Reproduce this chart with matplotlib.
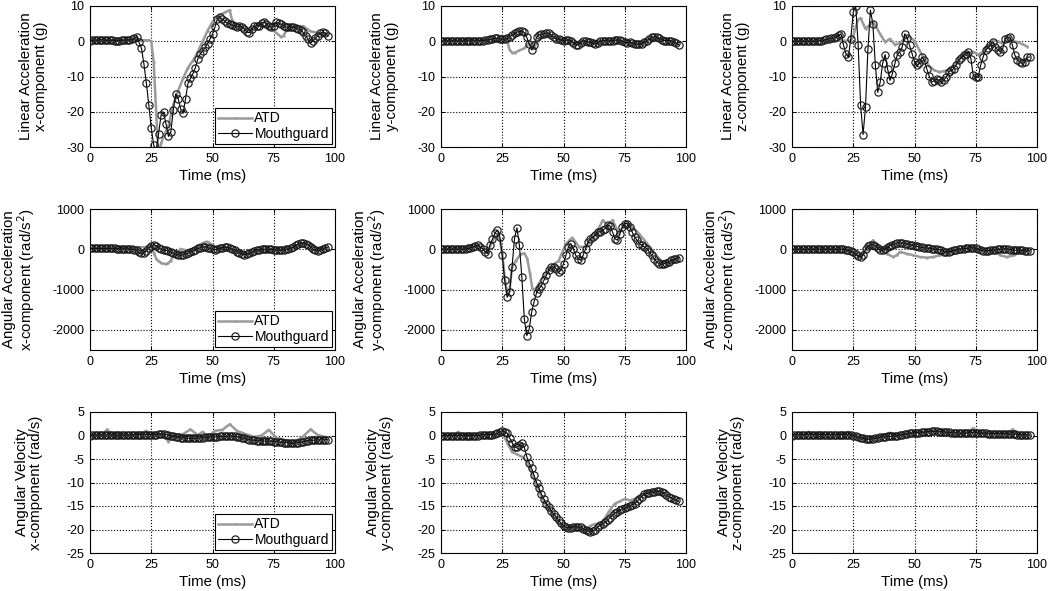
import numpy as np
import matplotlib
matplotlib.use("Agg")
import matplotlib.pyplot as plt

plt.rcParams['font.family'] = ['Liberation Sans', 'DejaVu Sans']
plt.rcParams['axes.unicode_minus'] = False

# ---------------- data ----------------
mg_time = list(range(0, 98))   # mouthguard sample times (ms)

# Row 1: linear acceleration (g)
lin_x_mg = [0.0, 0.3, 0.3, 0.3, 0.4, 0.4, 0.3, 0.3, 0.3, 0.3,
            0.2, 0.2, 0.2, 0.3, 0.3, 0.3, 0.4, 0.5, 0.8, 1.3,
            -0.3, -2.0, -6.4, -11.9, -18.0, -24.6, -29.5, -31.0, -26.2, -21.0,
            -20.1, -23.4, -27.0, -25.7, -19.4, -14.9, -16.3, -19.2, -20.4, -16.3,
            -11.9, -10.5, -9.2, -7.5, -5.0, -3.6, -2.8, -1.7, -0.7, 0.7,
            2.0, 4.0, 6.3, 6.8, 6.3, 5.7, 5.1, 5.0, 4.6, 4.2,
            4.0, 4.4, 4.0, 3.5, 2.6, 2.4, 3.5, 4.2, 4.4, 4.4,
            5.2, 5.4, 4.9, 4.2, 4.0, 4.4, 5.4, 5.1, 4.8, 4.4,
            4.0, 4.0, 4.0, 4.0, 3.8, 3.6, 3.3, 2.5, 1.6, 0.6,
            -0.6, 0.2, 0.8, 1.6, 2.2, 2.5, 2.4, 1.6]
lin_x_atd_t = [0, 24, 25, 26, 27, 28, 29, 30, 32, 34, 36, 38, 40, 42, 44, 46, 48, 50, 52,
               55, 57, 58, 60, 63, 66, 69, 72, 75, 78, 79, 81, 84, 87, 90, 93, 96]
lin_x_atd = [0.3, 0.3, 0.0, -6.0, -20.0, -33.0, -29.0, -27.0, -24.0, -18.0, -14.0, -10.5,
             -7.5, -5.5, -3.0, 0.0, 3.0, 5.5, 7.0, 8.2, 8.8, 6.0, 4.5, 3.8, 3.5, 4.5,
             4.0, 3.0, 1.2, 1.6, 4.0, 4.2, 4.3, 2.8, 2.4, 2.0]

lin_y_mg = [0.0, 0.1, 0.1, 0.1, 0.1, 0.1, 0.1, 0.1, 0.1, 0.1,
            0.1, 0.1, 0.1, 0.1, 0.1, 0.1, 0.2, 0.2, 0.3, 0.4,
            0.5, 0.7, 0.8, 0.8, 0.7, 0.6, 0.6, 0.8, 1.2, 1.8,
            2.3, 2.6, 2.8, 2.8, 2.5, 1.1, -0.8, -2.5, -1.2, 1.1,
            1.8, 2.0, 2.1, 2.3, 2.2, 1.8, 1.1, 0.7, 0.5, 0.3,
            0.2, 0.3, 0.4, 0.2, -0.4, -1.0, -1.0, -0.4, 0.2, 0.1,
            -0.2, -0.3, -0.6, -0.8, -0.4, 0.0, 0.2, 0.2, 0.1, 0.1,
            0.2, 0.3, 0.4, 0.3, 0.0, -0.3, -0.4, -0.3, -0.5, -0.8,
            -0.9, -0.9, -0.8, -0.3, 0.2, 0.7, 1.1, 1.3, 1.2, 0.8,
            0.4, 0.2, 0.2, 0.2, 0.1, -0.1, -0.5, -1.0]
lin_y_atd_t = [0, 27, 28, 29, 30, 32, 34, 35, 36, 37, 38, 39, 41, 43, 45, 48, 52, 55,
               58, 62, 66, 70, 75, 80, 84, 88, 92, 96]
lin_y_atd = [0.1, 0.3, -2.5, -3.2, -3.3, -2.6, -2.0, -1.2, -0.5, -1.5, -2.0, -0.5, 1.0,
             1.5, 1.5, 0.6, 0.3, -0.7, 0.0, -0.5, 0.0, 0.2, -0.2, -0.8, 0.0, 1.0, 0.3, -0.8]

lin_z_mg = [0.0, 0.0, 0.0, 0.0, 0.0, 0.0, 0.0, 0.0, 0.0, 0.0,
            0.0, 0.1, 0.2, 0.3, 0.5, 0.7, 0.8, 0.8, 1.2, 1.7,
            2.1, -1.0, -3.5, -4.5, 0.7, 8.3, 10.0, -1.0, -18.0, -26.5,
            -18.7, -2.1, 8.8, 5.0, -6.6, -14.5, -11.6, -6.3, -3.8, -7.8,
            -11.1, -9.2, -6.3, -3.8, -3.0, -1.6, 2.1, 0.9, -1.2, -3.5,
            -5.9, -6.6, -6.3, -4.5, -5.4, -7.8, -9.9, -11.6, -11.2, -10.8,
            -11.1, -11.6, -10.9, -10.2, -8.7, -8.2, -7.8, -6.8, -5.4, -4.8,
            -4.0, -3.5, -3.0, -4.9, -9.7, -10.2, -10.2, -6.8, -4.5, -2.6,
            -1.8, -1.2, -0.2, -1.6, -2.5, -3.0, -2.1, 0.7, 1.0, 1.2,
            -1.2, -4.0, -5.4, -5.8, -6.3, -5.9, -4.5, -4.5]
lin_z_atd_t = [0, 24, 25, 26, 27, 28, 29, 30, 31, 32, 33, 34, 36, 38, 40, 42, 44, 46, 48,
               50, 52, 54, 56, 58, 60, 62, 64, 66, 68, 70, 72, 74, 76, 78, 80, 82, 84,
               86, 88, 90, 92, 94, 96]
lin_z_atd = [0.0, 0.2, 1.5, 4.0, 6.2, 6.6, 5.0, 3.5, 4.2, 4.8, 5.5, 4.5, 2.0, -0.2, 0.7,
             -1.0, -0.5, 0.8, 1.2, 0.2, -2.5, -5.0, -7.0, -8.2, -8.7, -8.5, -8.0, -6.8,
             -5.2, -4.0, -3.3, -3.0, -3.8, -3.0, -1.5, 0.2, 0.0, -0.7, 0.2, 0.0, -0.2,
             -0.8, -1.5]

# Row 2: angular acceleration (rad/s^2)
ang_x_mg = [20, 20, 20, 20, 20, 20, 20, 20, 20, 20,
            20, 15, 10, 10, 10, 10, 5, 0, -10, -30,
            -70, -100, -90, -40, 30, 90, 110, 90, 40, 0,
            -20, -30, -40, -60, -90, -120, -140, -150, -140, -120,
            -100, -70, -40, -10, 20, 40, 60, 60, 40, 20,
            0, -10, 0, 20, 40, 50, 50, 30, 0, -30,
            -60, -90, -120, -130, -120, -100, -70, -40, -20, -10,
            0, 0, 0, 0, 0, -10, -20, -20, -20, -10,
            0, 10, 30, 60, 100, 130, 150, 160, 140, 110,
            60, 10, -30, -40, -20, 10, 40, 50]
ang_x_atd_t = [0, 25, 26, 27, 28, 29, 31, 32, 33, 34, 35, 36, 37, 40, 43, 45, 47, 48, 50,
               52, 55, 60, 64, 70, 80, 84, 87, 90, 93, 96]
ang_x_atd = [20, 60, -80, -230, -300, -340, -370, -340, -280, -160, -190, -60, 10, -40,
             50, 120, 180, 190, 110, 20, 50, -40, -120, -10, -10, 60, 150, 120, 20, 40]

ang_y_mg = [0, 0, 0, 0, 0, 0, 0, 0, 0, 0,
            10, 20, 40, 60, 80, 100, 60, 17, -60, -108,
            116, 250, 400, 474, 308, -150, -773, -1190, -1064, -440,
            266, 532, 100, -690, -1730, -2145, -1980, -1560, -1300, -1080,
            -980, -900, -773, -648, -523, -440, -440, -480, -565, -523,
            -357, -150, 58, 141, 17, -150, -233, -274, -150, 17,
            183, 266, 308, 350, 432, 432, 474, 515, 600, 580,
            432, 266, 225, 390, 557, 640, 640, 557, 432, 308,
            225, 141, 100, 58, 17, -66, -150, -233, -316, -357,
            -375, -357, -330, -316, -274, -250, -233, -207]
ang_y_atd_t = [0, 12, 15, 17, 19, 21, 22, 23, 24, 25, 26, 27, 28, 29, 30.5, 32.5, 34,
               35.2, 36.3, 37.3, 38, 39, 40, 42, 44, 46, 48, 51, 53.6, 56.3, 59, 63, 66,
               68, 70, 72.7, 75.4, 78, 80.8, 83.5, 86.3, 89, 91.7, 94.4, 96.5]
ang_y_atd = [0, 40, 100, 20, -80, 200, 320, 330, 250, -100, -700, -1100, -1000, -450,
             -290, -120, -100, -230, -600, -980, -1000, -950, -850, -650, -500, -370,
             -290, 140, 290, 60, 60, 350, 720, 600, 720, 380, 680, 560, 390, 190, -30,
             -230, -360, -320, -230]

ang_z_mg = [0, 0, 0, 0, 0, 0, 0, 0, 0, 0,
            0, 0, 0, 0, 0, 0, 0, 0, 0, 0,
            0, 0, -10, -30, -50, -70, -120, -170, -190, -150,
            0, 80, 110, 117, 90, 30, -20, -20, 10, 50,
            90, 110, 140, 155, 158, 155, 142, 130, 115, 100,
            85, 70, 58, 45, 35, 30, 25, 17, 10, 0,
            -10, -30, -55, -67, -60, -50, -30, -10, 0, 10,
            15, 20, 30, 42, 40, 20, 0, -20, -35, -42,
            -35, -25, -20, -10, -5, 0, 10, 17, 10, -10,
            -25, -25, -25, -25, -30, -35, -40, -42]
ang_z_atd_t = [0, 22, 25, 27.7, 30, 33, 36, 38.6, 41.3, 42.7, 44, 46.8, 49.5, 52.2, 55,
               57.7, 60.4, 63, 66, 70, 74, 77, 80, 82, 85, 87.7, 90.5, 93.2, 96]
ang_z_atd = [0, 0, -80, -200, -50, 225, 17, -108, -190, -150, -67, -108, -150, -190,
             -208, -190, -150, -80, -40, 10, 40, 0, -40, -30, -150, -190, -150, -67, -30]

# Row 3: angular velocity (rad/s)
vel_x_mg = [0.0, 0.1, 0.1, 0.1, 0.1, 0.1, 0.1, 0.1, 0.1, 0.1,
            0.1, 0.1, 0.1, 0.1, 0.1, 0.1, 0.1, 0.1, 0.2, 0.2,
            0.2, 0.2, 0.2, 0.2, 0.2, 0.2, 0.2, 0.2, 0.3, 0.3,
            0.3, 0.2, 0.1, 0.0, -0.2, -0.3, -0.4, -0.5, -0.5, -0.6,
            -0.6, -0.6, -0.6, -0.6, -0.5, -0.5, -0.5, -0.4, -0.4, -0.3,
            -0.3, -0.3, -0.3, -0.2, -0.2, -0.2, -0.2, -0.1, -0.1, -0.2,
            -0.3, -0.4, -0.5, -0.6, -0.8, -0.9, -1.0, -1.0, -1.1, -1.1,
            -1.1, -1.2, -1.2, -1.2, -1.2, -1.3, -1.3, -1.4, -1.4, -1.5,
            -1.5, -1.6, -1.7, -1.7, -1.6, -1.5, -1.4, -1.3, -1.2, -1.1,
            -1.0, -1.0, -1.0, -1.0, -0.9, -0.9, -0.9, -0.9]
vel_x_atd_t = [0, 5, 7, 9, 13, 16, 20, 23, 25, 28, 30, 32, 34, 36, 38, 41, 44, 46, 48, 51,
               54, 57, 60, 63, 67, 70, 73, 76, 80, 83, 87, 90, 93, 96]
vel_x_atd = [0, 0.1, 1.3, 0.1, 0.3, -0.3, 0.2, 1.0, 0.1, 0.3, 0.2, -1.3, 0.0, 0.2, 0.3,
             1.3, 0.1, 0.8, -0.5, 1.0, 1.2, 2.4, 1.0, 0.4, -0.3, 0.0, 1.2, -0.5, -1.0,
             -1.5, -0.2, 1.3, 0.1, -0.3]

vel_y_mg = [0.0, 0.0, 0.0, 0.0, 0.0, 0.0, 0.0, 0.0, 0.0, 0.0,
            0.0, 0.0, 0.0, 0.0, 0.0, 0.0, 0.1, 0.2, 0.2, 0.2,
            0.2, 0.2, 0.3, 0.5, 0.8, 1.0, 0.8, 0.5, -0.5, -1.5,
            -2.5, -2.5, -2.0, -1.5, -2.5, -4.5, -5.8, -7.0, -8.5, -10.0,
            -11.2, -12.5, -13.5, -14.5, -15.2, -16.0, -16.7, -17.3, -18.0, -18.7,
            -19.2, -19.5, -19.6, -19.6, -19.4, -19.4, -19.5, -19.5, -19.8, -20.0,
            -20.3, -20.5, -20.3, -20.0, -19.5, -19.0, -18.8, -18.5, -18.0, -17.5,
            -17.0, -16.5, -16.2, -15.8, -15.6, -15.5, -15.2, -15.0, -14.7, -14.5,
            -14.0, -13.5, -13.0, -12.5, -12.3, -12.2, -12.1, -12.0, -11.9, -11.8,
            -12.0, -12.3, -12.7, -13.0, -13.3, -13.5, -13.8, -14.0]
vel_y_atd_t = [0, 5, 7, 9, 22, 25, 27, 29, 31, 33, 35, 37, 39, 41, 43, 45, 47, 49, 51, 53,
               55, 57, 59, 61, 63, 65, 67, 69, 71, 73, 75, 77, 79, 81, 83, 85, 87, 89]
vel_y_atd = [0, 0, 0.8, 0, 0.2, 0.5, -1.5, -3.5, -4.0, -4.5, -5.5, -8.0, -10.5, -13.0,
             -15.0, -16.5, -18.0, -19.2, -19.8, -19.5, -19.3, -20.0, -20.3, -19.2, -18.8,
             -19.0, -17.5, -15.8, -14.5, -14.0, -13.5, -13.8, -13.5, -12.8, -12.3,
             -12.0, -11.8, -12.0]

vel_z_mg = [0.0, 0.2, 0.2, 0.2, 0.2, 0.2, 0.2, 0.2, 0.2, 0.2,
            0.2, 0.2, 0.2, 0.2, 0.2, 0.2, 0.2, 0.2, 0.2, 0.2,
            0.2, 0.2, 0.2, 0.2, 0.1, 0.0, -0.2, -0.4, -0.5, -0.6,
            -0.7, -0.8, -0.8, -0.7, -0.6, -0.5, -0.4, -0.3, -0.3, -0.2,
            -0.2, -0.2, -0.1, 0.0, 0.1, 0.2, 0.3, 0.4, 0.5, 0.5,
            0.6, 0.6, 0.6, 0.7, 0.7, 0.8, 0.8, 0.9, 0.9, 0.9,
            0.8, 0.8, 0.8, 0.7, 0.7, 0.6, 0.6, 0.6, 0.5, 0.5,
            0.5, 0.5, 0.6, 0.6, 0.6, 0.6, 0.5, 0.5, 0.5, 0.5,
            0.4, 0.4, 0.4, 0.4, 0.4, 0.4, 0.4, 0.4, 0.3, 0.3,
            0.3, 0.3, 0.2, 0.2, 0.2, 0.2, 0.1, 0.1]
vel_z_atd_t = [0, 5, 7, 9, 13, 15, 17, 21, 23, 25, 30, 35, 38, 40, 42, 45, 50, 54, 57, 62,
               66, 70, 72, 74, 76, 80, 85, 88, 90, 92, 96]
vel_z_atd = [0, 0.1, 0.8, 0.1, 0.2, -0.6, 0.1, 0.2, 0.8, 0.0, -0.8, -0.3, 0.2, 0.6, 0.1,
             0.2, 0.6, 0.7, 1.0, 0.7, 0.0, 0.5, 0.6, 1.6, 0.6, 0.5, 0.5, 0.4, 1.3, 0.2, 0.0]

ylabels = [
    ["Linear Acceleration\nx-component (g)", "Linear Acceleration\ny-component (g)", "Linear Acceleration\nz-component (g)"],
    ["Angular Acceleration\nx-component (rad/s$^2$)", "Angular Acceleration\ny-component (rad/s$^2$)", "Angular Acceleration\nz-component (rad/s$^2$)"],
    ["Angular Velocity\nx-component (rad/s)", "Angular Velocity\ny-component (rad/s)", "Angular Velocity\nz-component (rad/s)"],
]
xlabel = "Time (ms)"
xticks = [0, 25, 50, 75, 100]
row_ylim = [(-30, 10), (-2500, 1000), (-25, 5)]
row_yticks = [[-30, -20, -10, 0, 10], [-2000, -1000, 0, 1000], [-25, -20, -15, -10, -5, 0, 5]]
series_names = ["ATD", "Mouthguard"]

panels = [
    [(lin_x_atd_t, lin_x_atd, lin_x_mg), (lin_y_atd_t, lin_y_atd, lin_y_mg), (lin_z_atd_t, lin_z_atd, lin_z_mg)],
    [(ang_x_atd_t, ang_x_atd, ang_x_mg), (ang_y_atd_t, ang_y_atd, ang_y_mg), (ang_z_atd_t, ang_z_atd, ang_z_mg)],
    [(vel_x_atd_t, vel_x_atd, vel_x_mg), (vel_y_atd_t, vel_y_atd, vel_y_mg), (vel_z_atd_t, vel_z_atd, vel_z_mg)],
]

# ---------------- layout ----------------
W, H = 1050, 591
fig = plt.figure(figsize=(W / 100, H / 100), dpi=100)
col_left_px = [90, 441, 792]
row_top_px = [6, 209, 412]
ax_w_px, ax_h_px = 245, 141
label_x = [-0.17, -0.215, -0.19]
label_ls = [1.15, 1.0, 1.0]

for r in range(3):
    for c in range(3):
        left = col_left_px[c] / W
        bottom = 1 - (row_top_px[r] + ax_h_px) / H
        ax = fig.add_axes([left, bottom, ax_w_px / W, ax_h_px / H])
        at_t, at_v, mg_v = panels[r][c]
        ax.plot(at_t, at_v, color='#9a9a9a', lw=1.8, marker='.', ms=1.5,
                label=series_names[0], zorder=2)
        ax.plot(mg_time[:len(mg_v)], mg_v, color='black', lw=0.8, marker='o', ms=5.2,
                mfc='none', mec='#1a1a1a', mew=0.85, label=series_names[1], zorder=3)
        ax.set_xlim(0, 100)
        ax.set_ylim(*row_ylim[r])
        ax.set_xticks(xticks)
        ax.set_yticks(row_yticks[r])
        ax.grid(True, color='black', linestyle=':', linewidth=0.8)
        ax.tick_params(direction='in', length=3, labelsize=9, width=0.7,
                       top=True, right=True, pad=4)
        for s in ax.spines.values():
            s.set_linewidth(0.8)
        ax.set_xlabel(xlabel, fontsize=10.8, labelpad=3)
        ax.set_ylabel(ylabels[r][c], fontsize=10.8, linespacing=label_ls[r])
        ax.yaxis.set_label_coords(label_x[r], 0.5)
        if c == 0:
            leg = ax.legend(loc='lower right', fontsize=10, frameon=True, fancybox=False,
                            edgecolor='black', framealpha=1, borderaxespad=0.2,
                            handlelength=2.4, handletextpad=0.2, borderpad=0.25,
                            labelspacing=0.1)
            leg.get_frame().set_linewidth(0.8)

fig.savefig("out.png", dpi=100)
